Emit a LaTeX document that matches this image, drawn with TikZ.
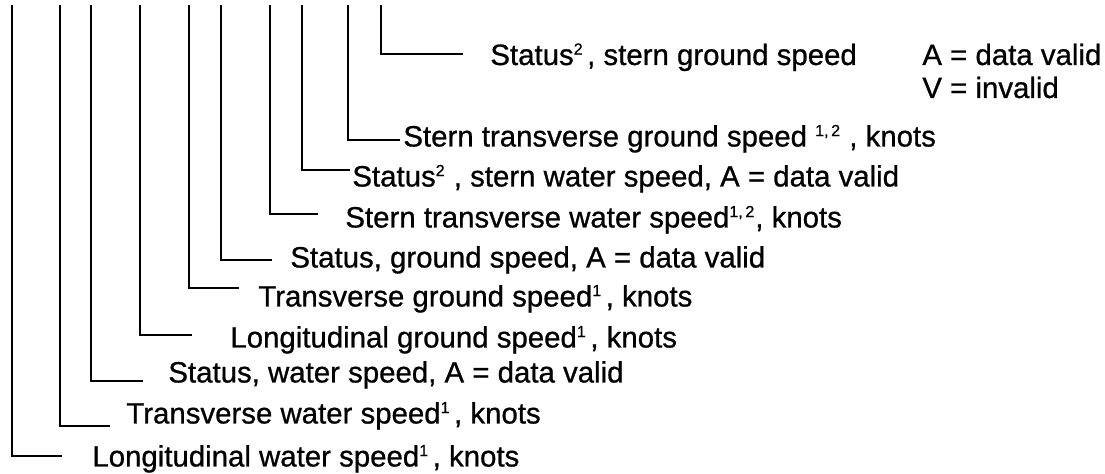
\documentclass[tikz,border=0pt]{standalone}
\usepackage{fontspec}
\setmainfont{Liberation Sans}[FakeBold=0.8]
\usepackage{tikz}
\usetikzlibrary{positioning}
\newcommand{\up}[1]{\textsuperscript{\footnotesize #1}}
\newcommand{\supgap}{\hspace{0.12em}}
\tikzset{
  field/.style={anchor=base west, inner sep=0pt, font=\fontsize{14.7}{16}\selectfont},
  lead/.style={line width=1.4pt}
}

\begin{document}
\begin{tikzpicture}[x=0.5pt,y=-0.5pt]
\useasboundingbox (0,0) rectangle (1105,474);
% top ends of the leads
\coordinate (t1) at (12,5);
\coordinate (t2) at (60,5);
\coordinate (t3) at (91,5);
\coordinate (t4) at (140,5);
\coordinate (t5) at (189,5);
\coordinate (t6) at (221,5);
\coordinate (t7) at (270,5);
\coordinate (t8) at (302,5);
\coordinate (t9) at (348,5);
\coordinate (t10) at (381,5);
% free ends
\coordinate (e1) at (62,456);
\coordinate (e2) at (110,426);
\coordinate (e3) at (143,381);
\coordinate (e4) at (192,335);
\coordinate (e5) at (239,288);
\coordinate (e6) at (272,260);
\coordinate (e7) at (318,214);
\coordinate (e8) at (350,170);
\coordinate (e9) at (400,140);
\coordinate (e10) at (463,54);
% field texts
\node[field] (f1) at (92,466.5) {Longitudinal water speed\up{1}\supgap, knots};
\node[field] (f2) at (126,423.5) {Transverse water speed\up{1}\supgap, knots};
\node[field] (f3) at (168,382.5) {Status, water speed, A = data valid};
\node[field] (f4) at (230,347.5) {Longitudinal ground speed\up{1}\supgap, knots};
\node[field] (f5) at (258,306.5) {Transverse ground speed\up{1}\supgap, knots};
\node[field] (f6) at (290,267.5) {Status, ground speed, A = data valid};
\node[field] (f7) at (345,227.5) {Stern transverse water speed\up{1,\,2}, knots};
\node[field] (f8) at (352,186.5) {Status\up{2} , stern water speed, A = data valid};
\node[field] (f9) at (403,146.5) {Stern transverse ground speed \up{1,\,2} , knots};
\node[field] (f10) at (490,65) {Status\up{2}\supgap, stern ground speed};
\node[field] (va) at (922,65) {A = data valid};
\node[field] (vv) at (922,98) {V = invalid};
% leads
\draw[lead] (t1) |- (e1);
\draw[lead] (t2) |- (e2);
\draw[lead] (t3) |- (e3);
\draw[lead] (t4) |- (e4);
\draw[lead] (t5) |- (e5);
\draw[lead] (t6) |- (e6);
\draw[lead] (t7) |- (e7);
\draw[lead] (t8) |- (e8);
\draw[lead] (t9) |- (e9);
\draw[lead] (t10) |- (e10);
\end{tikzpicture}
\end{document}
